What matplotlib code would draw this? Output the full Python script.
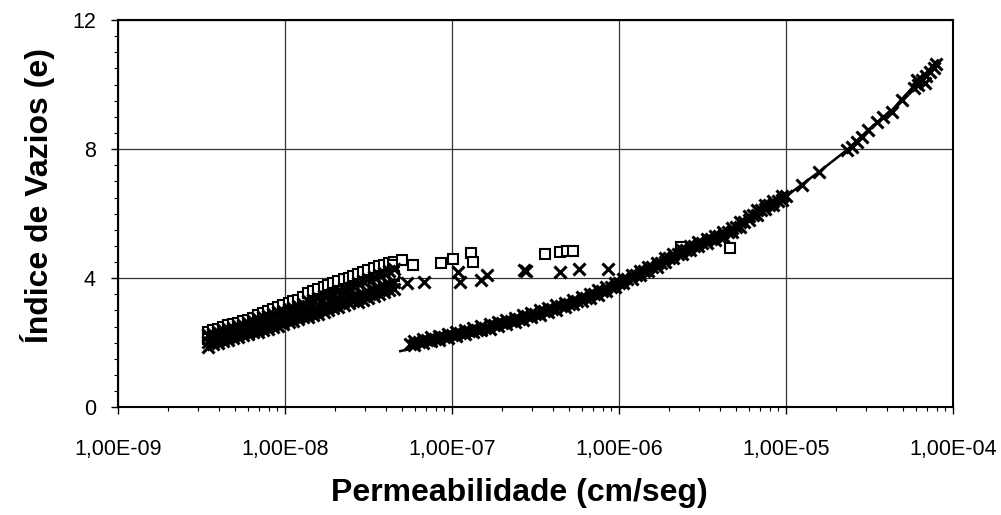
import matplotlib
matplotlib.use("Agg")
import matplotlib.pyplot as plt
from matplotlib.ticker import FixedLocator, MultipleLocator, LogLocator, NullFormatter

plt.rcParams['font.family'] = ['Liberation Sans', 'DejaVu Sans']

# left cluster (lab tests): permeability positions shared by the rows
left_k = [3.47e-9, 3.72e-9, 3.98e-9, 4.27e-9, 4.57e-9, 4.90e-9, 5.25e-9, 5.62e-9, 6.03e-9, 6.46e-9,
          6.92e-9, 7.41e-9, 7.94e-9, 8.51e-9, 9.12e-9, 9.77e-9, 1.05e-8, 1.12e-8, 1.20e-8, 1.29e-8,
          1.38e-8, 1.48e-8, 1.58e-8, 1.70e-8, 1.82e-8, 1.95e-8, 2.09e-8, 2.24e-8, 2.40e-8, 2.57e-8,
          2.75e-8, 2.95e-8, 3.16e-8, 3.39e-8, 3.63e-8, 3.89e-8, 4.17e-8, 4.47e-8]
sq_top_e = [2.34, 2.39, 2.44, 2.49, 2.54, 2.58, 2.62, 2.67, 2.72, 2.77,
            2.87, 2.92, 2.97, 3.04, 3.10, 3.16, 3.22, 3.28, 3.34, 3.41,
            3.54, 3.60, 3.66, 3.72, 3.78, 3.84, 3.90, 3.96, 4.00, 4.06,
            4.14, 4.20, 4.26, 4.32, 4.38, 4.42, 4.46, 4.50]
sq_mid_row_e = [2.12, 2.17, 2.22, 2.27, 2.32, 2.36, 2.40, 2.45, 2.50, 2.55,
                2.60, 2.65, 2.70, 2.75, 2.80, 2.85, 2.90, 2.95, 3.00, 3.06,
                3.12, 3.17, 3.22, 3.28, 3.33, 3.39, 3.44, 3.50, 3.55, 3.61,
                3.66, 3.72, 3.78, 3.84, 3.90, 3.96, 4.02, 4.08]
x_hi_e = [2.23, 2.28, 2.33, 2.38, 2.43, 2.47, 2.51, 2.56, 2.61, 2.66,
          2.74, 2.79, 2.84, 2.89, 2.94, 2.99, 3.04, 3.09, 3.14, 3.20,
          3.28, 3.33, 3.38, 3.44, 3.49, 3.55, 3.60, 3.66, 3.71, 3.77,
          3.86, 3.92, 3.98, 4.04, 4.10, 4.16, 4.22, 4.28]
x_mid_row_e = [2.01, 2.06, 2.11, 2.16, 2.21, 2.25, 2.29, 2.34, 2.39, 2.44,
               2.46, 2.51, 2.56, 2.61, 2.66, 2.71, 2.76, 2.81, 2.86, 2.92,
               2.96, 3.01, 3.06, 3.12, 3.17, 3.23, 3.28, 3.34, 3.39, 3.45,
               3.46, 3.52, 3.58, 3.64, 3.70, 3.76, 3.82, 3.88]
x_low_e = [1.88, 1.95, 2.00, 2.05, 2.10, 2.14, 2.18, 2.23, 2.28, 2.33,
           2.33, 2.38, 2.43, 2.48, 2.53, 2.58, 2.63, 2.68, 2.73, 2.79,
           2.80, 2.85, 2.90, 2.96, 3.01, 3.07, 3.12, 3.18, 3.23, 3.29,
           3.26, 3.32, 3.38, 3.44, 3.50, 3.56, 3.62, 3.68]

# scattered points between the two groups
sq_mid_k = [4.44e-8, 5.00e-8, 5.83e-8, 8.55e-8, 1.02e-7, 1.30e-7, 1.34e-7, 3.61e-7, 4.44e-7, 4.86e-7,
            5.28e-7, 2.34e-6, 4.62e-6]
sq_mid_e = [4.40, 4.55, 4.40, 4.46, 4.60, 4.77, 4.51, 4.74, 4.80, 4.85, 4.85, 4.96, 4.93]
x_mid_k = [5.37e-8, 6.79e-8, 1.09e-7, 1.11e-7, 1.49e-7, 1.61e-7, 2.70e-7, 2.77e-7, 4.44e-7, 5.78e-7, 8.55e-7]
x_mid_e = [3.84, 3.89, 4.20, 3.89, 3.94, 4.10, 4.25, 4.22, 4.18, 4.29, 4.29]

# right curve (field data): interleaved rows of crosses
right_k_a = [5.62e-8, 6.31e-8, 7.08e-8, 7.94e-8, 8.91e-8, 1.00e-7, 1.12e-7, 1.26e-7, 1.41e-7, 1.58e-7,
             1.78e-7, 2.00e-7, 2.24e-7, 2.51e-7, 2.82e-7, 3.16e-7, 3.55e-7, 3.98e-7, 4.47e-7, 5.01e-7,
             5.62e-7, 6.31e-7, 7.08e-7, 7.94e-7, 8.91e-7, 1.00e-6, 1.12e-6, 1.26e-6, 1.41e-6, 1.58e-6,
             1.78e-6, 2.00e-6, 2.24e-6, 2.51e-6, 2.82e-6, 3.16e-6, 3.55e-6, 3.98e-6, 4.47e-6, 5.01e-6,
             5.62e-6, 6.31e-6, 7.08e-6, 7.94e-6, 8.91e-6, 1.00e-5]
right_e_a = [1.95, 2.01, 2.07, 2.12, 2.18, 2.24, 2.30, 2.35, 2.41, 2.47,
             2.54, 2.61, 2.68, 2.75, 2.82, 2.89, 2.97, 3.05, 3.13, 3.21,
             3.30, 3.40, 3.50, 3.61, 3.72, 3.84, 3.96, 4.09, 4.22, 4.35,
             4.48, 4.62, 4.75, 4.88, 5.00, 5.10, 5.20, 5.30, 5.42, 5.58,
             5.75, 5.95, 6.12, 6.26, 6.40, 6.54]
right_k_b = [5.96e-8, 6.68e-8, 7.50e-8, 8.41e-8, 9.44e-8, 1.06e-7, 1.19e-7, 1.33e-7, 1.50e-7, 1.68e-7,
             1.88e-7, 2.11e-7, 2.37e-7, 2.66e-7, 2.99e-7, 3.35e-7, 3.76e-7, 4.22e-7, 4.73e-7, 5.31e-7,
             5.96e-7, 6.68e-7, 7.50e-7, 8.41e-7, 9.44e-7, 1.06e-6, 1.19e-6, 1.33e-6, 1.50e-6, 1.68e-6,
             1.88e-6, 2.11e-6, 2.37e-6, 2.66e-6, 2.99e-6, 3.35e-6, 3.76e-6, 4.22e-6, 4.73e-6, 5.31e-6,
             5.96e-6, 6.68e-6, 7.50e-6, 8.41e-6, 9.44e-6]
right_e_b = [2.05, 2.11, 2.17, 2.22, 2.28, 2.34, 2.40, 2.45, 2.51, 2.57,
             2.64, 2.71, 2.78, 2.85, 2.92, 3.00, 3.08, 3.16, 3.24, 3.32,
             3.42, 3.52, 3.62, 3.73, 3.85, 3.97, 4.09, 4.22, 4.35, 4.48,
             4.62, 4.75, 4.88, 5.01, 5.12, 5.22, 5.32, 5.43, 5.57, 5.73,
             5.92, 6.10, 6.26, 6.40, 6.54]
right_e_c = [1.92, 1.98, 2.04, 2.09, 2.15, 2.21, 2.27, 2.32, 2.38, 2.44,
             2.51, 2.58, 2.65, 2.72, 2.79, 2.87, 2.95, 3.03, 3.11, 3.19,
             3.29, 3.39, 3.49, 3.60, 3.72, 3.84, 3.96, 4.09, 4.22, 4.35,
             4.49, 4.62, 4.75, 4.88, 4.99, 5.09, 5.19, 5.30, 5.44, 5.60,
             5.79, 5.97, 6.13, 6.27, 6.41]
# upper end of the right curve
tail_k = [1.24e-5, 1.58e-5, 2.31e-5, 2.47e-5, 2.65e-5, 2.84e-5, 3.10e-5, 3.49e-5, 3.81e-5, 4.30e-5,
          4.93e-5, 5.83e-5, 6.17e-5, 6.52e-5, 6.89e-5, 7.28e-5, 7.69e-5, 7.91e-5, 6.10e-5, 6.80e-5]
tail_e = [6.89, 7.30, 7.97, 8.08, 8.23, 8.39, 8.59, 8.85, 9.00, 9.16,
          9.52, 9.89, 10.00, 10.14, 10.27, 10.39, 10.51, 10.64, 10.15, 10.05]

# fitted line
line_k = [4.90e-8, 5.50e-8, 6.30e-8, 1.00e-7, 2.00e-7, 5.00e-7, 1.00e-6, 2.00e-6, 5.00e-6,
          1.00e-5, 1.58e-5, 2.31e-5, 3.10e-5, 4.30e-5, 4.93e-5, 8.10e-5]
line_e = [1.74, 1.80, 2.00, 2.24, 2.61, 3.21, 3.84, 4.62, 5.58,
          6.54, 7.30, 7.97, 8.59, 9.20, 9.55, 10.75]

x_ticks = [1e-9, 1e-8, 1e-7, 1e-6, 1e-5, 1e-4]
x_tick_labels = ["1,00E-09", "1,00E-08", "1,00E-07", "1,00E-06", "1,00E-05", "1,00E-04"]
y_ticks = [0, 4, 8, 12]

fig = plt.figure(figsize=(10.01, 5.15), dpi=100)
ax = fig.add_axes([0.1179, 0.2091, 0.8342, 0.7521])

sq_style = dict(ls="none", marker="s", ms=7.5, mfc="white", mec="black", mew=1.5)
x_style = dict(ls="none", marker="x", ms=8.5, mec="black", mew=2.2)

ax.plot(line_k, line_e, color="black", lw=1.8, zorder=2)
ax.plot(left_k, sq_top_e, zorder=3, **sq_style)
ax.plot(left_k, sq_mid_row_e, zorder=3, **sq_style)
ax.plot(sq_mid_k, sq_mid_e, zorder=3, **sq_style)
ax.plot(left_k, x_hi_e, zorder=4, **x_style)
ax.plot(left_k, x_mid_row_e, zorder=4, **x_style)
ax.plot(left_k, x_low_e, zorder=4, **x_style)
ax.plot(x_mid_k, x_mid_e, zorder=4, **x_style)
ax.plot(right_k_a, right_e_a, zorder=4, **x_style)
ax.plot(right_k_b, right_e_b, zorder=4, **x_style)
ax.plot(right_k_b, right_e_c, zorder=4, **x_style)
ax.plot(tail_k, tail_e, zorder=4, **x_style)

ax.set_xscale("log")
ax.set_xlim(1e-9, 1e-4)
ax.set_ylim(0, 12)
ax.xaxis.set_major_locator(FixedLocator(x_ticks))
ax.set_xticklabels(x_tick_labels)
ax.xaxis.set_minor_locator(LogLocator(base=10, subs=range(2, 10), numticks=20))
ax.xaxis.set_minor_formatter(NullFormatter())
ax.set_yticks(y_ticks)
ax.yaxis.set_minor_locator(MultipleLocator(0.5))

ax.grid(True, which="major", color="#333333", lw=0.9)
ax.set_axisbelow(True)
for s in ax.spines.values():
    s.set_linewidth(1.5)

ax.tick_params(which="major", direction="out", length=5, width=1, labelsize=15.5)
ax.tick_params(which="minor", direction="out", length=3, width=0.8)
ax.tick_params(axis="x", which="major", pad=18)
ax.tick_params(axis="y", which="major", pad=11)

ax.set_xlabel("Permeabilidade (cm/seg)", fontsize=23, fontweight="bold")
ax.xaxis.set_label_coords(0.481, -0.221)
ax.xaxis.label.set_va("center")
ax.set_ylabel("Índice de Vazios (e)", fontsize=23, fontweight="bold")
ax.yaxis.set_label_coords(-0.097, 0.546)
ax.yaxis.label.set_va("center")

fig.savefig("out.png", dpi=100)
